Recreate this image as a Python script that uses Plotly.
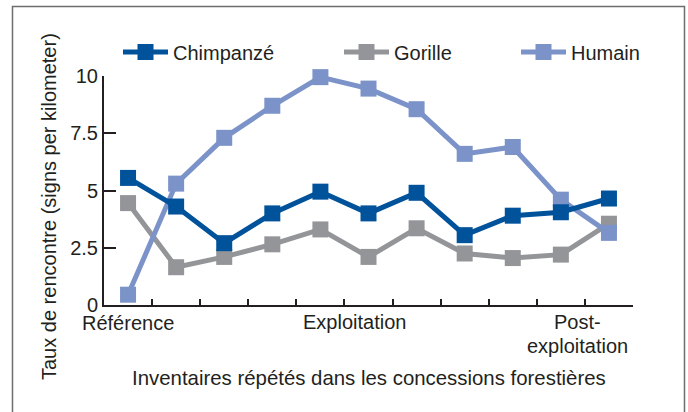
import plotly.graph_objects as go

surveys = list(range(1, 12))
chimpanze = [5.55, 4.3, 2.7, 4.0, 4.95, 4.0, 4.9, 3.05, 3.9, 4.05, 4.65]
gorille = [4.45, 1.65, 2.1, 2.65, 3.3, 2.1, 3.35, 2.25, 2.05, 2.2, 3.55]
humain = [0.45, 5.3, 7.3, 8.7, 9.95, 9.45, 8.55, 6.6, 6.9, 4.6, 3.15]

y_ticks = [0, 2.5, 5, 7.5, 10]
y_tick_labels = ["0", "2.5", "5", "7.5", "10"]
x_tick_marks = [1.5, 2.5, 3.5, 4.5, 5.5, 6.5, 7.5, 8.5, 9.5, 10.5, 11.5]
# phase labels: (x position, text, extra vertical offset in px)
phase_pos = [1.0, 5.7, 10.35, 10.35]
phase_labels = ["Référence", "Exploitation", "Post-", "exploitation"]
phase_shift = [-5, -4, -4, -28]

C_CHIMP = "#00529b"
C_GOR = "#939598"
C_HUM = "#7b93c8"
INK = "#231f20"
FONT = "Liberation Sans, Arial, sans-serif"

fig = go.Figure()
series = {"Chimpanzé": (chimpanze, C_CHIMP, "legend"),
          "Gorille": (gorille, C_GOR, "legend2"),
          "Humain": (humain, C_HUM, "legend3")}
for name in ["Gorille", "Humain", "Chimpanzé"]:
    vals, col, lg = series[name]
    fig.add_trace(go.Scatter(
        x=surveys, y=vals, name=name, mode="lines+markers",
        line=dict(color=col, width=5),
        marker=dict(symbol="square", size=16, color=col),
        cliponaxis=False, legend=lg,
    ))

W, H = 688, 412
L, R, T, B = 104, 55, 76, 107
pw, ph = W - L - R, H - T - B

def px_x(px):
    return (px - L) / pw

def px_y(py):
    return (H - B - py) / ph

leg_common = dict(orientation="h", xanchor="left", yanchor="middle",
                  font=dict(family=FONT, size=20, color=INK),
                  bgcolor="rgba(0,0,0,0)", itemwidth=45,
                  itemclick=False)
fig.update_layout(
    width=W, height=H,
    margin=dict(l=L, r=R, t=T, b=B),
    paper_bgcolor="white", plot_bgcolor="white",
    font=dict(family=FONT, size=20, color=INK),
    legend=dict(x=px_x(118), y=px_y(52), **leg_common),
    legend2=dict(x=px_x(339), y=px_y(52), **leg_common),
    legend3=dict(x=px_x(516), y=px_y(52), **leg_common),
    xaxis=dict(range=[0.5, 11.5], tickvals=x_tick_marks,
               ticktext=[""] * len(x_tick_marks),
               ticks="inside", ticklen=6, tickwidth=2, tickcolor=INK,
               showline=True, linecolor=INK, linewidth=2,
               showgrid=False, zeroline=False, fixedrange=True),
    yaxis=dict(range=[0, 10], tickvals=y_ticks, ticktext=y_tick_labels,
               ticks="inside", ticklen=12, tickwidth=2, tickcolor=INK,
               showline=True, linecolor=INK, linewidth=2,
               showgrid=False, zeroline=False,
               tickfont=dict(family=FONT, size=20, color=INK),
               fixedrange=True),
    showlegend=True,
)

for xp, lab, sh in zip(phase_pos, phase_labels, phase_shift):
    fig.add_annotation(x=xp, y=0, xref="x", yref="paper", text=lab,
                       showarrow=False, yanchor="top", yshift=sh,
                       font=dict(family=FONT, size=20, color=INK),
                       align="center")

fig.add_annotation(x=px_x(369), y=px_y(378), xref="paper", yref="paper",
                   text="Inventaires répétés dans les concessions forestières",
                   showarrow=False, xanchor="center", yanchor="middle",
                   font=dict(family=FONT, size=20.4, color=INK))
fig.add_annotation(x=px_x(49), y=px_y(207), xref="paper", yref="paper",
                   text="Taux de rencontre (signs per kilometer)",
                   showarrow=False, xanchor="center", yanchor="middle",
                   textangle=-90,
                   font=dict(family=FONT, size=20, color=INK))

fig.add_shape(type="rect", xref="paper", yref="paper",
              x0=px_x(12.5), x1=px_x(684.5), y0=px_y(430), y1=px_y(6.5),
              line=dict(color="#6d6e71", width=1.5), layer="below")

fig.write_html("out.html", config={"displayModeBar": False},
               post_script="document.body.style.margin='0px';"
                           "document.body.style.overflow='hidden';")
